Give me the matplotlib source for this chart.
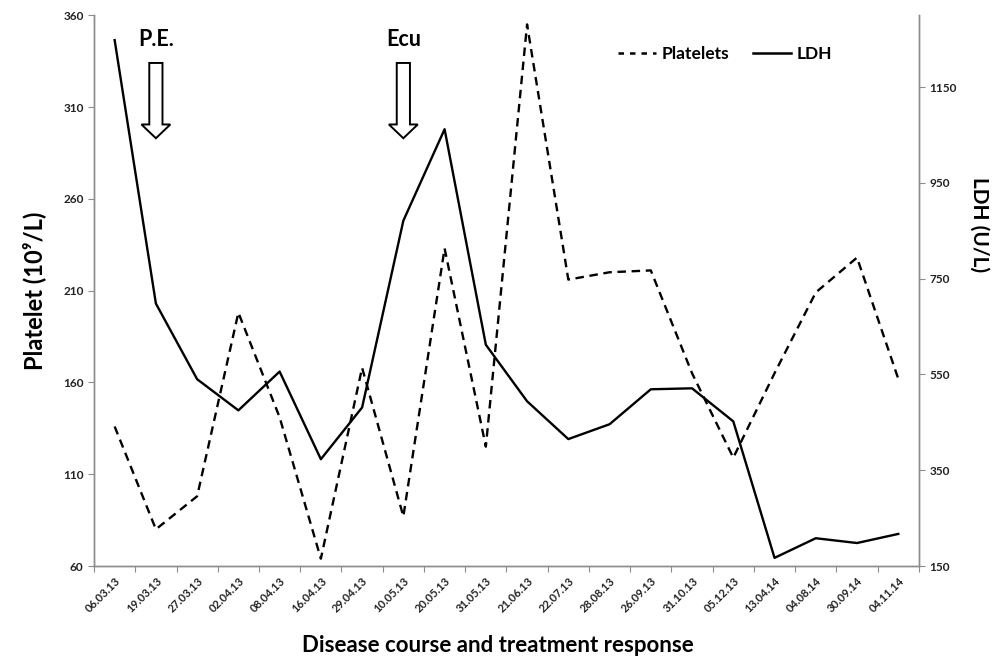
import matplotlib
matplotlib.use("Agg")
import matplotlib.pyplot as plt
import matplotlib.patches as mpatches
from matplotlib.lines import Line2D

plt.rcParams['font.family'] = ['Lato', 'DejaVu Sans']

dates = ['06.03.13', '19.03.13', '27.03.13', '02.04.13', '08.04.13', '16.04.13',
         '29.04.13', '10.05.13', '20.05.13', '31.05.13', '21.06.13', '22.07.13',
         '28.08.13', '26.09.13', '31.10.13', '05.12.13', '13.04.14', '04.08.14',
         '30.09.14', '04.11.14']
platelets = [136, 80, 98, 198, 141, 64, 168, 87, 233, 125, 355, 216,
             220, 221, 165, 119, 165, 209, 228, 162]
ldh = [1248, 698, 540, 475, 556, 373, 481, 871, 1062, 612, 494, 415,
       446, 519, 521, 452, 167, 208, 198, 217]
left_ticks = [60, 110, 160, 210, 260, 310, 360]
right_ticks = [150, 350, 550, 750, 950, 1150]

gray = '#8c8c8c'
x = list(range(len(dates)))

fig = plt.figure(figsize=(9.95, 6.62), dpi=100)
ax = fig.add_axes([0.0945, 0.145, 0.829, 0.832])
ax2 = ax.twinx()

ax.plot(x, platelets, color='black', lw=1.7, dashes=(3.6, 2.4))
ax2.plot(x, ldh, color='black', lw=1.7)

ax.set_xlim(-0.5, len(dates) - 0.5)
ax.set_ylim(60, 360)
ax2.set_ylim(150, 1300)
ax.set_yticks(left_ticks)
ax2.set_yticks(right_ticks)

# category ticks between points, labels centred on points
ax.set_xticks([i - 0.5 for i in range(len(dates) + 1)])
ax.set_xticklabels([])
ax.set_xticks(x, minor=True)
ax.set_xticklabels(dates, minor=True, rotation=45, ha='right', rotation_mode='anchor',
                   fontsize=8, fontweight='bold', color='#222222')
ax.tick_params(axis='x', which='minor', length=0, pad=7)
ax.tick_params(axis='x', which='major', length=4, color=gray, direction='out')
ax.tick_params(axis='y', length=4, color=gray, labelsize=8.5, labelcolor='#222222')
ax2.tick_params(axis='y', length=4, color=gray, labelsize=8.5, labelcolor='#222222')
for t in ax.get_yticklabels() + ax2.get_yticklabels():
    t.set_fontweight('bold')

for a in (ax, ax2):
    a.spines['top'].set_visible(False)
    for s in ('left', 'right', 'bottom'):
        a.spines[s].set_color(gray)
        a.spines[s].set_linewidth(1)

ax.set_ylabel('Platelet (10\u2079/L)', fontsize=17, fontweight='bold', labelpad=12)
ax2.set_ylabel('LDH (U/L)', fontsize=15, fontweight='bold', rotation=-90)
ax2.yaxis.set_label_coords(1.085, 0.62)
fig.text(0.5, 0.015, 'Disease course and treatment response', ha='center',
         fontsize=16, fontweight='bold')

# treatment markers
for xi, label in [(1.0, 'P.E.'), (7.0, 'Ecu')]:
    ax.text(xi, 347, label, ha='center', va='center', fontsize=15.5, fontweight='bold')
    arr = mpatches.FancyArrow(xi, 334, 0, -41, width=0.32, head_width=0.7,
                              head_length=7.5, length_includes_head=True,
                              facecolor='white', edgecolor='black', lw=1.4, zorder=5)
    ax.add_patch(arr)

handles = [Line2D([], [], color='black', lw=1.8, dashes=(2.2, 2.4)),
           Line2D([], [], color='black', lw=1.8)]
ax.legend(handles, ['Platelets', 'LDH'], ncol=2, frameon=False, loc='center',
          bbox_to_anchor=(0.765, 0.93), handlelength=2.2, handletextpad=0.3,
          columnspacing=1.4, prop={'weight': 'bold', 'size': 12.5})

fig.savefig('out.png', dpi=100)
